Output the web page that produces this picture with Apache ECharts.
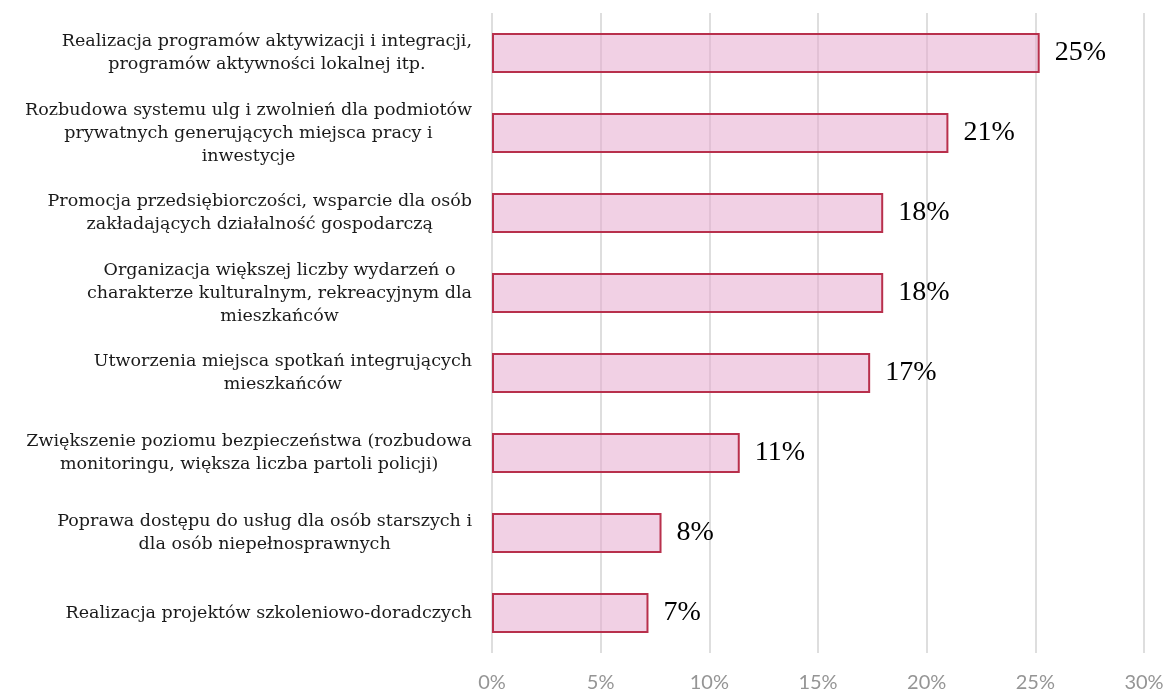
<!DOCTYPE html>
<html>
<head>
<meta charset="utf-8">
<script src="https://cdn.jsdelivr.net/npm/echarts@6/dist/echarts.min.js"></script>
<style>
  html, body { margin: 0; padding: 0; background: #fff; }
  #main { width: 1168px; height: 693px; }
</style>
</head>
<body>
<div id="main"></div>
<script>
// kategorie (podział linii jak na wykresie)
var categories = [
    'Realizacja programów aktywizacji i integracji,\nprogramów aktywności lokalnej itp.',
    'Rozbudowa systemu ulg i zwolnień dla podmiotów\nprywatnych generujących miejsca pracy i\ninwestycje',
    'Promocja przedsiębiorczości, wsparcie dla osób\nzakładających działalność gospodarczą',
    'Organizacja większej liczby wydarzeń o\ncharakterze kulturalnym, rekreacyjnym dla\nmieszkańców',
    'Utworzenia miejsca spotkań integrujących\nmieszkańców',
    'Zwiększenie poziomu bezpieczeństwa (rozbudowa\nmonitoringu, większa liczba partoli policji)',
    'Poprawa dostępu do usług dla osób starszych i\ndla osób niepełnosprawnych',
    'Realizacja projektów szkoleniowo-doradczych'
];
// wartości w %
var values = [25.2, 21.0, 18.0, 18.0, 17.4, 11.4, 7.8, 7.2];
var axisTicks = [0, 5, 10, 15, 20, 25, 30];

var myChart = echarts.init(document.getElementById('main'));

var option = {
    backgroundColor: '#fff',
    animation: false,
    grid: { left: 492, right: 24, top: 13, bottom: 40, containLabel: false },
    xAxis: {
        type: 'value',
        min: axisTicks[0],
        max: axisTicks[axisTicks.length - 1],
        interval: 5,
        axisLine: { show: false },
        axisTick: { show: false },
        splitLine: { show: true, lineStyle: { color: '#dedede', width: 2 } },
        axisLabel: {
            margin: 20,
            fontFamily: 'Lato',
            fontSize: 20,
            color: '#959595',
            formatter: function(v){ return v + '%'; }
        }
    },
    yAxis: {
        type: 'category',
        inverse: true,
        data: categories,
        axisLine: { show: false },
        axisTick: { show: false },
        axisLabel: {
            margin: 20,
            color: '#1a1a1a',
            formatter: function(v){
                return v.split('\n').map(function(l){ return '{c|' + l + '}'; }).join('\n');
            },
            rich: {
                c: { align: 'center', fontFamily: 'DejaVu Serif', fontSize: 17.5, lineHeight: 23, color: '#1a1a1a' }
            }
        }
    },
    series: [{
        type: 'bar',
        data: values,
        barWidth: 40,
        itemStyle: {
            color: 'rgba(230,170,205,0.55)',
            borderColor: '#b8304c',
            borderWidth: 2
        },
        label: {
            show: true,
            position: 'right',
            distance: 15,
            fontFamily: 'Liberation Serif',
            fontSize: 28,
            color: '#000',
            formatter: function(p){ return Math.round(p.value) + '%'; }
        }
    }]
};
myChart.setOption(option);
</script>
</body>
</html>
